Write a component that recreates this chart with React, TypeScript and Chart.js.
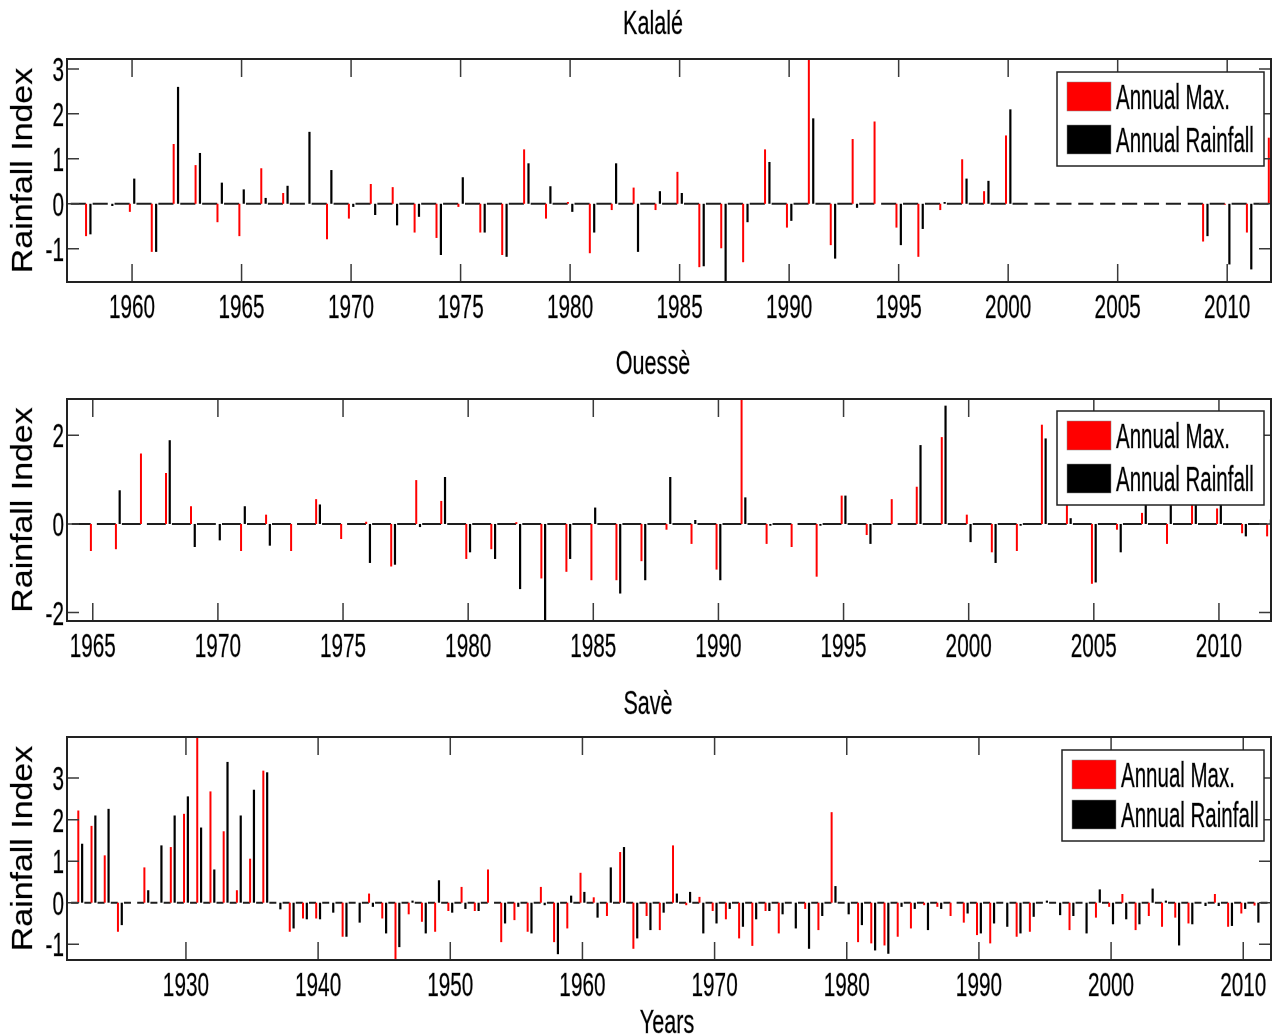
import React, { useEffect, useRef } from "react";
import { Chart, registerables } from "chart.js";

Chart.register(...registerables);

const FONT = "'Liberation Sans', Arial, Helvetica, sans-serif";
const RED = "#ff0000";
const BLACK = "#000000";
const LEGEND_LABELS = ["Annual Max.", "Annual Rainfall"];
const Y_LABEL = "Rainfall Index";
const X_LABEL = "Years";

function range(a: number, b: number): number[] {
  const r: number[] = [];
  for (let y = a; y <= b; y++) r.push(y);
  return r;
}

// ---------- Kalalé ----------
const kalaleYears = range(1958, 2012);
const kalaleMax: (number | null)[] = [
  -0.72, 0, -0.18, -1.07, 1.33, 0.86, -0.41, -0.72, 0.79, 0.24,
  0, -0.79, -0.33, 0.44, 0.37, -0.64, -0.76, -0.07, -0.64, -1.14,
  1.21, -0.33, 0.04, -1.1, -0.14, 0.36, -0.14, 0.71, -1.41, -0.99,
  -1.3, 1.21, -0.53, 3.22, -0.92, 1.44, 1.83, -0.53, -1.18, -0.14,
  0.99, 0.28, 1.52, null, null, null, null, null, null, null,
  null, -0.84, -0.02, -0.64, 1.47,
];
const kalaleRain: (number | null)[] = [
  -0.68, -0.05, 0.56, -1.07, 2.6, 1.13, 0.47, 0.32, 0.13, 0.4,
  1.6, 0.75, -0.07, -0.25, -0.48, -0.29, -1.14, 0.59, -0.64, -1.18,
  0.9, 0.39, -0.18, -0.64, 0.9, -1.07, 0.28, 0.24, -1.39, -1.74,
  -0.41, 0.93, -0.38, 1.9, -1.22, -0.09, 0, -0.92, -0.56, 0.04,
  0.56, 0.51, 2.1, null, null, null, null, null, null, null,
  null, -0.72, -1.35, -1.46, 0.5,
];
const kalaleXTicks = [1960, 1965, 1970, 1975, 1980, 1985, 1990, 1995, 2000, 2005, 2010];
const kalaleYTicks = [-1, 0, 1, 2, 3];

// ---------- Ouessè ----------
const ouesseYears = range(1965, 2012);
const ouesseMax: (number | null)[] = [
  -0.61, -0.57, 1.59, 1.15, 0.4, 0, -0.61, 0.21, -0.61, 0.56,
  -0.34, 0.05, -0.96, 0.99, 0.52, -0.79, -0.57, 0.04, -1.23, -1.08,
  -1.27, -1.27, -0.84, -0.13, -0.45, -1.03, 2.82, -0.45, -0.52, -1.19,
  0.64, -0.25, 0.56, 0.84, 1.96, 0.21, -0.64, -0.61, 2.24, 0.5,
  -1.35, -0.13, 0.25, -0.45, 0.55, 0.35, -0.21, -0.28,
];
const ouesseRain: (number | null)[] = [
  0, 0.76, 0, 1.89, -0.52, -0.37, 0.4, -0.49, 0, 0.44,
  0, -0.88, -0.92, -0.07, 1.06, -0.64, -0.79, -1.47, -2.19, -0.79,
  0.37, -1.57, -1.27, 1.06, 0.09, -1.27, 0.6, -0.04, 0, -0.04,
  0.64, -0.45, 0, 1.78, 2.67, -0.41, -0.88, -0.04, 1.93, 0.13,
  -1.32, -0.64, 0.5, 0.6, 0.6, 0.5, -0.28, 0.1,
];
const ouesseXTicks = [1965, 1970, 1975, 1980, 1985, 1990, 1995, 2000, 2005, 2010];
const ouesseYTicks = [-2, 0, 2];

// ---------- Savè ----------
const saveYears = range(1922, 2011);
const saveMax: (number | null)[] = [
  2.22, 1.85, 1.14, -0.7, 0, 0.85, 0, 1.34, 2.14, 3.99,
  2.68, 1.72, 0.3, 1.06, 3.18, 0, -0.7, -0.38, -0.38, 0,
  -0.82, 0, 0.22, -0.38, -1.38, -0.28, -0.46, -0.7, -0.2, 0.38,
  -0.2, 0.8, -0.95, -0.42, -0.7, 0.38, -0.95, -0.62, 0.72, 0.13,
  -0.32, 1.22, -1.11, -0.32, -0.66, 1.38, -0.06, 0.14, -0.2, -0.4,
  -0.86, -1.04, -0.2, -0.74, 0, -0.15, -0.66, 2.18, 0, -0.95,
  -0.98, -1.03, -0.82, -0.62, -0.06, -0.1, -0.32, -0.48, -0.78, -0.98,
  0, -0.82, -0.7, 0, 0, -0.66, 0, -0.36, -0.1, 0.21,
  -0.66, -0.32, -0.58, -0.36, -0.5, 0, 0.21, -0.58, -0.26, -0.07,
];
const saveRain: (number | null)[] = [
  1.42, 2.1, 2.26, -0.54, 0, 0.3, 1.38, 2.1, 2.56, 1.81,
  0.8, 3.39, 2.1, 2.72, 3.14, -0.16, -0.62, -0.4, -0.4, -0.24,
  -0.82, -0.48, -0.1, -0.74, -1.07, 0.05, -0.74, 0.54, -0.24, -0.15,
  -0.2, 0, -0.5, -0.1, -0.74, -0.06, -1.24, 0.17, 0.26, -0.36,
  0.85, 1.34, -0.86, -0.66, -0.24, 0.22, 0.26, -0.74, -0.5, -0.15,
  -0.58, -0.4, -0.2, -0.28, -0.62, -1.11, -0.32, 0.4, -0.28, -0.54,
  -1.15, -1.23, -0.1, -0.15, -0.66, -0.15, 0, -0.26, -0.74, -0.5,
  -0.58, -0.74, -0.34, 0.05, -0.3, -0.32, -0.74, 0.32, -0.52, -0.4,
  -0.52, 0.34, 0.05, -1.03, -0.52, -0.08, -0.08, -0.56, -0.15, -0.48,
];
const saveXTicks = [1930, 1940, 1950, 1960, 1970, 1980, 1990, 2000, 2010];
const saveYTicks = [-1, 0, 1, 2, 3];

type PanelCfg = {
  title: string;
  titleX: number;
  years: number[];
  maxVals: (number | null)[];
  rainVals: (number | null)[];
  xMin: number;
  xMax: number;
  yMin: number;
  yMax: number;
  xTicks: number[];
  yTicks: number[];
  catPct: number;
  height: number;
  padTop: number;
  padBottom: number;
  tickBaseline: number;
  legend: { x: number; y: number; w: number; h: number; rowGap: number; textDx: number };
  xLabel?: string;
};

const PANELS: PanelCfg[] = [
  {
    title: "Kalalé", titleX: 653,
    years: kalaleYears, maxVals: kalaleMax, rainVals: kalaleRain,
    xMin: 1957.03, xMax: 2012.0, yMin: -1.74, yMax: 3.22,
    xTicks: kalaleXTicks, yTicks: kalaleYTicks, catPct: 0.4,
    height: 340, padTop: 59, padBottom: 58, tickBaseline: 318,
    legend: { x: 1057, y: 72, w: 207, h: 94, rowGap: 43, textDx: 59 },
  },
  {
    title: "Ouessè", titleX: 653,
    years: ouesseYears, maxVals: ouesseMax, rainVals: ouesseRain,
    xMin: 1963.97, xMax: 2012.08, yMin: -2.19, yMax: 2.82,
    xTicks: ouesseXTicks, yTicks: ouesseYTicks, catPct: 0.3,
    height: 340, padTop: 59, padBottom: 59, tickBaseline: 317,
    legend: { x: 1057, y: 71, w: 207, h: 94, rowGap: 43, textDx: 59 },
  },
  {
    title: "Savè", titleX: 648,
    years: saveYears, maxVals: saveMax, rainVals: saveRain,
    xMin: 1921.0, xMax: 2012.1, yMin: -1.38, yMax: 3.99,
    xTicks: saveXTicks, yTicks: saveYTicks, catPct: 0.58,
    height: 356, padTop: 57, padBottom: 76, tickBaseline: 316,
    legend: { x: 1062, y: 70, w: 202, h: 91, rowGap: 40, textDx: 59 },
    xLabel: X_LABEL,
  },
];

function stretchedText(
  ctx: CanvasRenderingContext2D,
  text: string,
  x: number,
  y: number,
  size: number,
  sx: number,
  sy: number,
  align: CanvasTextAlign,
  angle = 0
) {
  ctx.save();
  ctx.translate(x, y);
  if (angle) ctx.rotate(angle);
  ctx.scale(sx, sy);
  ctx.font = `${size}px ${FONT}`;
  ctx.textAlign = align;
  ctx.textBaseline = "alphabetic";
  ctx.fillStyle = "#000";
  ctx.strokeStyle = "rgba(0,0,0,0.35)";
  ctx.lineWidth = 0.6;
  ctx.fillText(text, 0, 0);
  ctx.strokeText(text, 0, 0);
  ctx.restore();
}

function makeDecor(cfg: PanelCfg) {
  return {
    id: "matlabDecor",
    beforeDatasetsDraw(chart: any) {
      const { ctx, chartArea: ca, scales } = chart;
      const xs = scales.x;
      const yrPx = xs.getPixelForValue(cfg.xMin + 1) - xs.getPixelForValue(cfg.xMin);
      const off = (yrPx * cfg.catPct) / 4;
      const y0 = scales.y.getPixelForValue(0);
      ctx.save();
      ctx.beginPath();
      ctx.rect(ca.left, ca.top, ca.right - ca.left, ca.bottom - ca.top);
      ctx.clip();
      ctx.strokeStyle = "#1e1e1e";
      ctx.lineWidth = 2;
      ctx.beginPath();
      for (let yr = Math.floor(cfg.xMin) - 1; yr <= Math.ceil(cfg.xMax); yr++) {
        const a = xs.getPixelForValue(yr) + off + 2.2;
        const b = xs.getPixelForValue(yr + 1) - off - 0.2;
        ctx.moveTo(a, y0);
        ctx.lineTo(b, y0);
      }
      ctx.stroke();
      ctx.restore();
    },
    afterDraw(chart: any) {
      const { ctx, chartArea: ca, scales } = chart;
      const xs = scales.x;
      const ys = scales.y;

      // tick marks (inward, mirrored)
      ctx.save();
      ctx.strokeStyle = "#3a3a3a";
      ctx.lineWidth = 1.5;
      ctx.beginPath();
      cfg.xTicks.forEach((t) => {
        const px = xs.getPixelForValue(t);
        ctx.moveTo(px, ca.bottom);
        ctx.lineTo(px, ca.bottom - 18);
        ctx.moveTo(px, ca.top);
        ctx.lineTo(px, ca.top + 18);
      });
      cfg.yTicks.forEach((t) => {
        const py = ys.getPixelForValue(t);
        ctx.moveTo(ca.left, py);
        ctx.lineTo(ca.left + 12, py);
        ctx.moveTo(ca.right, py);
        ctx.lineTo(ca.right - 12, py);
      });
      ctx.stroke();

      // frame
      ctx.strokeStyle = "#222";
      ctx.lineWidth = 2;
      ctx.strokeRect(ca.left, ca.top, ca.right - ca.left, ca.bottom - ca.top);
      ctx.restore();

      // tick labels
      cfg.xTicks.forEach((t) => {
        stretchedText(ctx, String(t), xs.getPixelForValue(t), cfg.tickBaseline, 25, 0.83, 1.34, "center");
      });
      cfg.yTicks.forEach((t) => {
        stretchedText(ctx, String(t), 64, ys.getPixelForValue(t) + 12, 25, 0.83, 1.34, "right");
      });

      // title
      stretchedText(ctx, cfg.title, cfg.titleX, 34, 26, 0.83, 1.3, "center");

      // y label
      const midY = (ca.top + ca.bottom) / 2;
      stretchedText(ctx, Y_LABEL, 32, midY, 28, 1.21, 1.05, "center", -Math.PI / 2);

      // x label
      if (cfg.xLabel) {
        stretchedText(ctx, cfg.xLabel, 667, 353, 26, 0.83, 1.3, "center");
      }

      // legend
      const L = cfg.legend;
      ctx.save();
      ctx.fillStyle = "#fff";
      ctx.fillRect(L.x, L.y, L.w, L.h);
      ctx.strokeStyle = "#222";
      ctx.lineWidth = 1.5;
      ctx.strokeRect(L.x, L.y, L.w, L.h);
      chart.data.datasets.forEach((ds: any, i: number) => {
        const sy = L.y + 10 + i * L.rowGap;
        ctx.fillStyle = ds.backgroundColor;
        ctx.fillRect(L.x + 10, sy, 44, 29);
        ctx.strokeStyle = "#888";
        ctx.lineWidth = 0.5;
        ctx.strokeRect(L.x + 10, sy, 44, 29);
        stretchedText(ctx, ds.label, L.x + L.textDx, sy + 14.5 + 12.5, 25, 0.82, 1.38, "left");
      });
      ctx.restore();
    },
  };
}

function Panel({ cfg }: { cfg: PanelCfg }) {
  const ref = useRef<HTMLCanvasElement | null>(null);
  useEffect(() => {
    if (!ref.current) return;
    const chart = new Chart(ref.current, {
      type: "bar",
      data: {
        datasets: [
          {
            label: LEGEND_LABELS[0],
            data: cfg.years.map((yr, i) => ({ x: yr, y: cfg.maxVals[i] })) as any,
            backgroundColor: RED,
            borderWidth: 0,
            maxBarThickness: 2,
            barPercentage: 0.55,
            categoryPercentage: cfg.catPct,
          },
          {
            label: LEGEND_LABELS[1],
            data: cfg.years.map((yr, i) => ({ x: yr, y: cfg.rainVals[i] })) as any,
            backgroundColor: BLACK,
            borderWidth: 0,
            maxBarThickness: 2.2,
            barPercentage: 0.6,
            categoryPercentage: cfg.catPct,
          },
        ],
      },
      options: {
        responsive: false,
        animation: false,
        devicePixelRatio: 1,
        layout: { padding: { left: 67, right: 4, top: cfg.padTop, bottom: cfg.padBottom } },
        plugins: {
          legend: { display: false },
          title: { display: false },
          tooltip: { enabled: false },
        },
        events: [],
        scales: {
          x: {
            type: "linear",
            display: false,
            offset: false,
            min: cfg.xMin,
            max: cfg.xMax,
            afterBuildTicks: (axis: any) => {
              axis.ticks = cfg.xTicks.map((v) => ({ value: v }));
            },
          },
          y: {
            type: "linear",
            display: false,
            min: cfg.yMin,
            max: cfg.yMax,
            afterBuildTicks: (axis: any) => {
              axis.ticks = cfg.yTicks.map((v) => ({ value: v }));
            },
          },
        },
      } as any,
      plugins: [makeDecor(cfg) as any],
    });
    return () => chart.destroy();
  }, [cfg]);
  return (
    <canvas
      ref={ref}
      width={1275}
      height={cfg.height}
      style={{ display: "block", width: 1275, height: cfg.height }}
    />
  );
}

export default function App() {
  return (
    <div
      style={{
        position: "absolute",
        left: 0,
        top: 0,
        width: 1275,
        height: 1036,
        background: "#fff",
        overflow: "hidden",
      }}
    >
      {PANELS.map((p, i) => (
        <Panel key={i} cfg={p} />
      ))}
    </div>
  );
}
